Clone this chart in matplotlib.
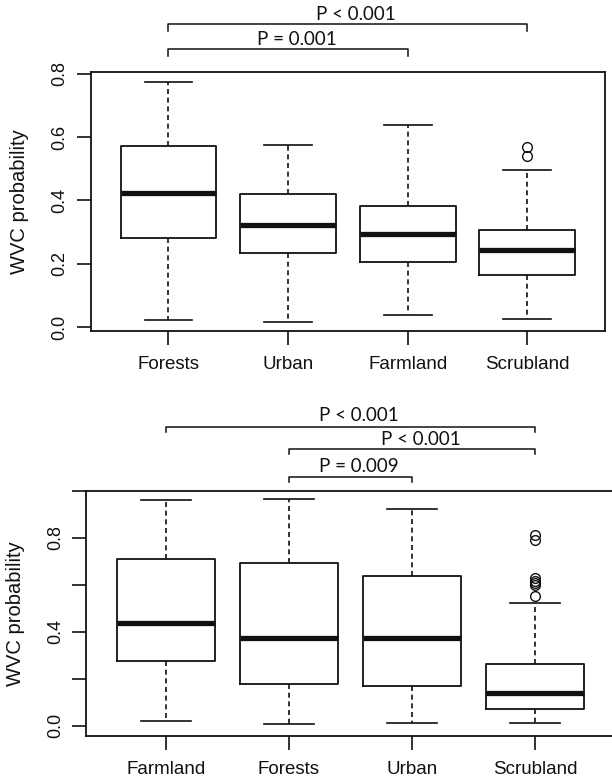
import matplotlib
matplotlib.use("Agg")
import matplotlib.pyplot as plt

# top panel: WVC probability by land use
top_labels = ["Forests", "Urban", "Farmland", "Scrubland"]
top_whislo = [0.022, 0.017, 0.037, 0.026]
top_q1 = [0.280, 0.233, 0.205, 0.165]
top_med = [0.423, 0.322, 0.295, 0.244]
top_q3 = [0.571, 0.419, 0.381, 0.307]
top_whishi = [0.774, 0.576, 0.639, 0.496]
top_fliers = [[], [], [], [0.539, 0.569]]

# bottom panel
bot_labels = ["Farmland", "Forests", "Urban", "Scrubland"]
bot_whislo = [0.020, 0.006, 0.014, 0.014]
bot_q1 = [0.277, 0.180, 0.168, 0.073]
bot_med = [0.437, 0.376, 0.376, 0.142]
bot_q3 = [0.711, 0.694, 0.638, 0.265]
bot_whishi = [0.961, 0.966, 0.924, 0.523]
bot_fliers = [[], [], [], [0.554, 0.600, 0.608, 0.617, 0.628, 0.793, 0.814]]

# significance brackets: (from box, to box, text)
top_sig = [(1, 4, "P < 0.001"), (1, 3, "P = 0.001")]
bot_sig = [(1, 4, "P < 0.001"), (2, 4, "P < 0.001"), (2, 3, "P = 0.009")]

INK = "#111111"
TICK_FONT = ["Liberation Sans", "DejaVu Sans"]
P_FONT = ["Lato", "DejaVu Sans"]


def make_stats(labels, lo, q1, med, q3, hi, fliers):
    stats = []
    for i in range(len(labels)):
        stats.append(dict(label=labels[i], whislo=lo[i], q1=q1[i], med=med[i],
                          q3=q3[i], whishi=hi[i], fliers=fliers[i]))
    return stats


def draw_panel(ax, stats, ylim, yticks, ylabels):
    ax.bxp(stats, positions=[1, 2, 3, 4], widths=0.8, showfliers=True,
           boxprops=dict(color=INK, linewidth=1.3),
           medianprops=dict(color=INK, linewidth=3.8, solid_capstyle="butt"),
           whiskerprops=dict(color=INK, linewidth=1.2, linestyle=(0, (3, 2.2))),
           capprops=dict(color=INK, linewidth=1.2),
           flierprops=dict(marker="o", markerfacecolor="none", markeredgecolor=INK,
                           markersize=7, markeredgewidth=1.0))
    ax.set_xlim(0.35, 4.65)
    ax.set_ylim(*ylim)
    ax.set_yticks(yticks)
    ax.set_yticklabels(ylabels, rotation=90, va="center", fontsize=13, family=TICK_FONT)
    ax.set_xticks([1, 2, 3, 4])
    ax.set_xticklabels([s["label"] for s in stats], fontsize=13.5, family=TICK_FONT)
    ax.tick_params(axis="both", length=10, width=1.2, color=INK, labelcolor=INK)
    ax.tick_params(axis="x", pad=8)
    ax.tick_params(axis="y", pad=6)
    ax.set_ylabel("WVC probability", fontsize=14.5, family=TICK_FONT, color=INK)
    for sp in ax.spines.values():
        sp.set_linewidth(1.3)
        sp.set_color(INK)


def draw_brackets(ax, sig, bar_y, drop, text_y):
    tr = ax.get_xaxis_transform()
    for (a, b, txt), yb, yt in zip(sig, bar_y, text_y):
        ax.plot([a, a, b, b], [yb - drop, yb, yb, yb - drop], color=INK, lw=1.1,
                transform=tr, clip_on=False)
        ax.text((a + b) / 2 + 0.07, yt, txt, transform=tr, ha="center", va="center",
                fontsize=13.5, family=P_FONT, color=INK)


fig = plt.figure(figsize=(6.12, 7.79), dpi=100)

ax1 = fig.add_axes([0.1482, 0.5751, 0.8404, 0.3325])
draw_panel(ax1, make_stats(top_labels, top_whislo, top_q1, top_med, top_q3, top_whishi, top_fliers),
           (-0.0126, 0.806), [0.0, 0.2, 0.4, 0.6, 0.8], ["0.0", "0.2", "0.4", "0.6", "0.8"])
ax1.yaxis.set_label_coords(-0.12, 0.5)
draw_brackets(ax1, top_sig, [1.185, 1.089], 0.027, [1.222, 1.124])

ax2 = fig.add_axes([0.1405, 0.0552, 0.8644, 0.3145])
draw_panel(ax2, make_stats(bot_labels, bot_whislo, bot_q1, bot_med, bot_q3, bot_whishi, bot_fliers),
           (-0.043, 1.0), [0.0, 0.2, 0.4, 0.6, 0.8, 1.0], ["0.0", "", "0.4", "", "0.8", ""])
ax2.spines["right"].set_visible(False)  # cut off at the right edge in the original
ax2.yaxis.set_label_coords(-0.115, 0.5)
draw_brackets(ax2, bot_sig, [1.261, 1.171, 1.057], 0.022, [1.31, 1.212, 1.098])

fig.savefig("out.png", dpi=100)
